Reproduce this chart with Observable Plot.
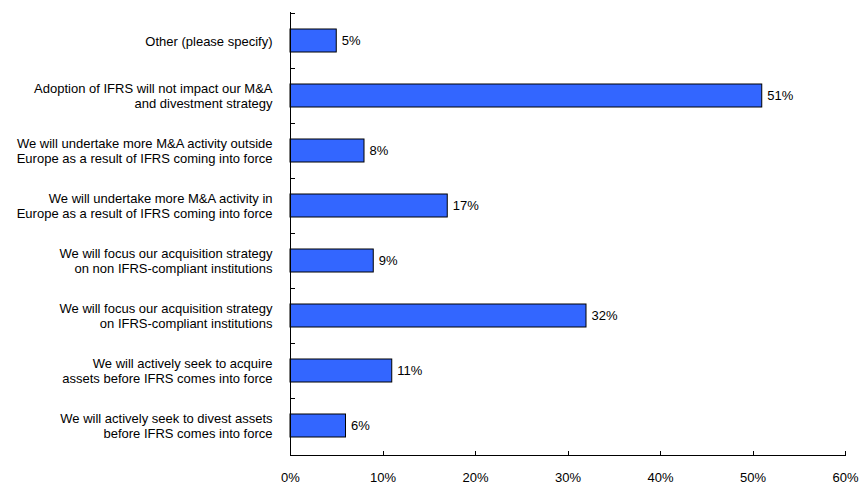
<!DOCTYPE html>
<html>
<head>
<meta charset="utf-8">
<script src="https://cdn.jsdelivr.net/npm/d3@7"></script>
<script src="https://cdn.jsdelivr.net/npm/@observablehq/plot@0.6"></script>
<style>
  html, body { margin: 0; padding: 0; background: #fff; }
  svg { font-family: "Liberation Sans", Arial, sans-serif; }
</style>
</head>
<body>
<div id="chart"></div>
<script>
const categories = [
  "Other (please specify)",
  "Adoption of IFRS will not impact our M&A\nand divestment strategy",
  "We will undertake more M&A activity outside\nEurope as a result of IFRS coming into force",
  "We will undertake more M&A activity in\nEurope as a result of IFRS coming into force",
  "We will focus our acquisition strategy\non non IFRS-compliant institutions",
  "We will focus our acquisition strategy\non IFRS-compliant institutions",
  "We will actively seek to acquire\nassets before IFRS comes into force",
  "We will actively seek to divest assets\nbefore IFRS comes into force"
];
const values = [5, 51, 8, 17, 9, 32, 11, 6];
const xTicks = [0, 10, 20, 30, 40, 50, 60];

const data = categories.map((c, i) => ({category: c, value: values[i]}));

const W = 859, H = 484, ML = 290, MR = 14, MT = 12, MB = 29;

const chart = Plot.plot({
  width: W,
  height: H,
  marginLeft: ML,
  marginRight: MR,
  marginTop: MT,
  marginBottom: MB,
  style: {fontFamily: "'Liberation Sans', Arial, sans-serif", fontSize: "13px", color: "#000"},
  x: {domain: [0, 60], ticks: xTicks, tickFormat: d => d + "%"},
  y: {domain: categories, paddingInner: 0.58, paddingOuter: 0.29},
  marks: [
    Plot.barX(data, {y: "category", x: "value", fill: "#3366FF", stroke: "#000", strokeWidth: 1}),
    Plot.text(data, {y: "category", x: "value", text: d => d.value + "%", textAnchor: "start", dx: 5, fill: "#000", fontSize: 13}),
    Plot.axisX({ticks: xTicks, tickFormat: d => d + "%", tickSize: 0, tickPadding: 17, label: null, fontSize: 13}),
    Plot.axisY({tickSize: 0, tickPadding: 18, label: null, fontSize: 13, lineHeight: 1.15}),
    Plot.ruleX([0], {stroke: "#000"}),
    Plot.frame({anchor: "bottom", stroke: "#000"})
  ]
});

// small inward ticks on the x axis and band-boundary ticks on the y axis, placed via the library's scales
const sx = chart.scale("x");
const sy = chart.scale("y");
const svg = d3.select(chart);
const bottom = H - MB;
const x0 = sx.apply(0);
const g = svg.append("g").attr("stroke", "#000").attr("stroke-width", 1);
xTicks.forEach(t => {
  const px = Math.round(sx.apply(t)) + 0.5;
  g.append("line").attr("x1", px).attr("x2", px).attr("y1", bottom).attr("y2", bottom - 4);
});
categories.forEach(c => {
  const top = sy.apply(c) - (sy.step - sy.bandwidth) / 2;
  const py = Math.round(top) + 0.5;
  g.append("line").attr("x1", x0).attr("x2", x0 + 5).attr("y1", py).attr("y2", py);
});

document.getElementById("chart").appendChild(chart);
</script>
</body>
</html>
